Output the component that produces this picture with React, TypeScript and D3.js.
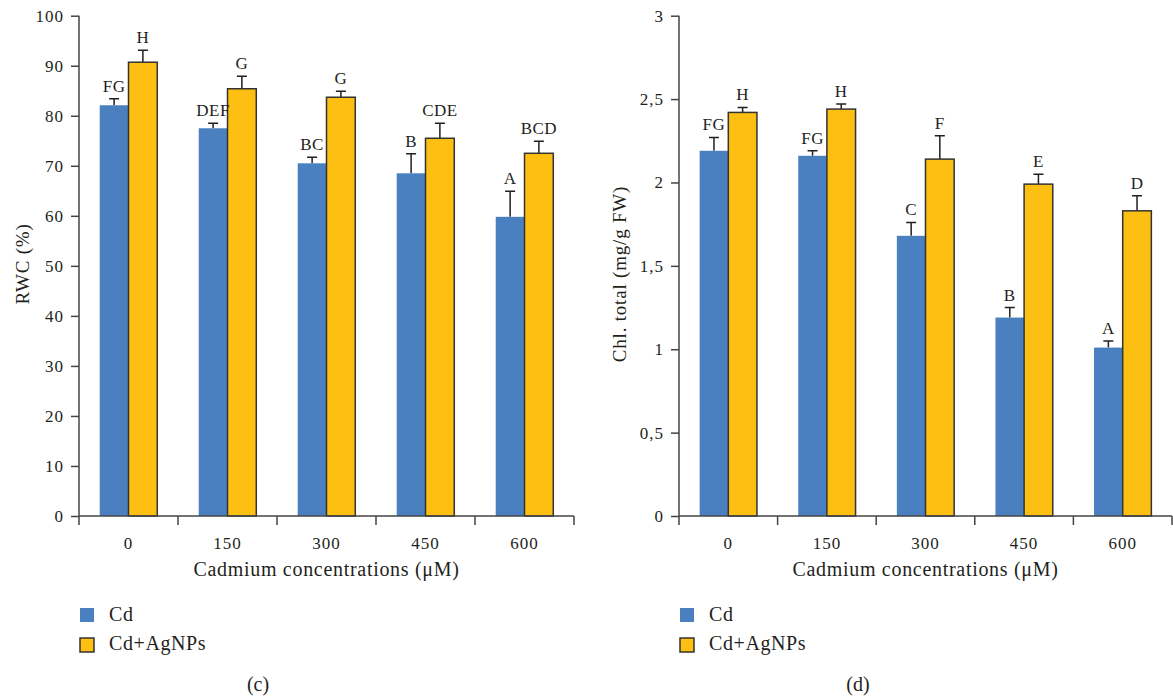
import React, { useEffect, useRef } from 'react';
import * as d3 from 'd3';

const categories = ['0', '150', '300', '450', '600'];
const seriesNames = ['Cd', 'Cd+AgNPs'];

const rwcCd = [82.1, 77.5, 70.5, 68.5, 59.8];
const rwcCdErr = [1.3, 1.0, 1.2, 3.9, 5.1];
const rwcAg = [90.7, 85.4, 83.7, 75.5, 72.5];
const rwcAgErr = [2.4, 2.5, 1.2, 3.0, 2.4];
const rwcCdLetters = ['FG', 'DEF', 'BC', 'B', 'A'];
const rwcAgLetters = ['H', 'G', 'G', 'CDE', 'BCD'];
const rwcTicks = [0, 10, 20, 30, 40, 50, 60, 70, 80, 90, 100];

const chlCd = [2.19, 2.16, 1.68, 1.19, 1.01];
const chlCdErr = [0.08, 0.03, 0.08, 0.06, 0.04];
const chlAg = [2.42, 2.44, 2.14, 1.99, 1.83];
const chlAgErr = [0.03, 0.03, 0.14, 0.06, 0.09];
const chlCdLetters = ['FG', 'FG', 'C', 'B', 'A'];
const chlAgLetters = ['H', 'H', 'F', 'E', 'D'];
const chlTicks = [0, 0.5, 1, 1.5, 2, 2.5, 3];

const BLUE = '#4a80c0';
const YELLOW = '#fcbf12';
const INK = '#231f20';
const AXIS = '#444';
const FONT = '"Liberation Serif", "DejaVu Serif", serif';

const commaFmt = d3.formatLocale({ decimal: ',', thousands: '.', grouping: [3], currency: ['', ''] }).format('.1~f');

type Panel = {
  left: number;
  right: number;
  max: number;
  ticks: number[];
  fmt: (v: number) => string;
  cd: number[];
  cdErr: number[];
  ag: number[];
  agErr: number[];
  cdLetters: string[];
  agLetters: string[];
  yTitle: string;
  yTitleX: number;
  yTitleY: number;
  caption: string;
};

const panels: Panel[] = [
  {
    left: 79, right: 574, max: 100, ticks: rwcTicks, fmt: (v) => String(v),
    cd: rwcCd, cdErr: rwcCdErr, ag: rwcAg, agErr: rwcAgErr,
    cdLetters: rwcCdLetters, agLetters: rwcAgLetters,
    yTitle: 'RWC (%)', yTitleX: 29, yTitleY: 264, caption: '(c)',
  },
  {
    left: 679, right: 1172, max: 3, ticks: chlTicks, fmt: (v) => commaFmt(v),
    cd: chlCd, cdErr: chlCdErr, ag: chlAg, agErr: chlAgErr,
    cdLetters: chlCdLetters, agLetters: chlAgLetters,
    yTitle: 'Chl. total (mg/g FW)', yTitleX: 626, yTitleY: 274, caption: '(d)',
  },
];

const TOP = 15.7;
const BOTTOM = 516;

function App() {
  const svgRef = useRef<SVGSVGElement | null>(null);

  useEffect(() => {
    const svg = d3.select(svgRef.current);
    svg.selectAll('*').remove();

    panels.forEach((p) => {
      const g = svg.append('g').attr('font-family', FONT).attr('fill', INK);

      const x = d3.scaleBand<string>().domain(categories).range([p.left, p.right]).paddingInner(0).paddingOuter(0);
      const x1 = d3.scaleBand<string>().domain(seriesNames).range([0, x.bandwidth()]).paddingInner(0).paddingOuter(0.72);
      const y = d3.scaleLinear().domain([0, p.max]).range([BOTTOM, TOP]);

      const rows = categories.map((c, i) => [
        { c, s: seriesNames[0], v: p.cd[i], e: p.cdErr[i], l: p.cdLetters[i] },
        { c, s: seriesNames[1], v: p.ag[i], e: p.agErr[i], l: p.agLetters[i] },
      ]).flat();

      // error bars (upper whisker only)
      g.selectAll('.err')
        .data(rows)
        .enter()
        .append('path')
        .attr('stroke', INK)
        .attr('stroke-width', 1.5)
        .attr('fill', 'none')
        .attr('d', (d) => {
          const cx = (x(d.c) as number) + (x1(d.s) as number) + x1.bandwidth() / 2;
          const y0 = y(d.v);
          const y1 = y(d.v + d.e);
          return `M${cx},${y0}V${y1}M${cx - 5},${y1}H${cx + 5}`;
        });

      g.selectAll('.bar')
        .data(rows)
        .enter()
        .append('rect')
        .attr('x', (d) => (x(d.c) as number) + (x1(d.s) as number))
        .attr('y', (d) => y(d.v))
        .attr('width', x1.bandwidth())
        .attr('height', (d) => BOTTOM - y(d.v))
        .attr('fill', (d) => (d.s === 'Cd' ? BLUE : YELLOW))
        .attr('stroke', (d) => (d.s === 'Cd' ? 'none' : '#333'))
        .attr('stroke-width', 1.5);

      g.selectAll('.letter')
        .data(rows)
        .enter()
        .append('text')
        .attr('x', (d) => (x(d.c) as number) + (x1(d.s) as number) + x1.bandwidth() / 2)
        .attr('y', (d) => y(d.v + d.e) - 7)
        .attr('text-anchor', 'middle')
        .attr('font-size', 17)
        .attr('letter-spacing', 0.5)
        .text((d) => d.l);

      // y axis
      const yAxis = g.append('g')
        .attr('transform', `translate(${p.left},0)`)
        .call(d3.axisLeft(y).tickValues(p.ticks).tickSize(8).tickPadding(7).tickFormat((v) => p.fmt(v as number)));
      yAxis.select('.domain').attr('stroke', AXIS).attr('stroke-width', 1.5).attr('d', `M0,${TOP}V${BOTTOM}`);
      yAxis.selectAll('.tick line').attr('stroke', AXIS).attr('stroke-width', 1.5);
      yAxis.selectAll('.tick text')
        .attr('font-size', 17)
        .attr('letter-spacing', 1)
        .attr('font-family', FONT)
        .attr('fill', INK);

      // x axis
      const xa = g.append('g');
      xa.append('line')
        .attr('x1', p.left).attr('x2', p.right)
        .attr('y1', BOTTOM).attr('y2', BOTTOM)
        .attr('stroke', AXIS).attr('stroke-width', 1.5);
      const bounds = categories.map((c) => x(c) as number).concat([p.right]);
      xa.selectAll('.xt')
        .data(bounds)
        .enter()
        .append('line')
        .attr('x1', (d) => d).attr('x2', (d) => d)
        .attr('y1', BOTTOM).attr('y2', BOTTOM + 9)
        .attr('stroke', AXIS).attr('stroke-width', 1.5);
      xa.selectAll('.xl')
        .data(categories)
        .enter()
        .append('text')
        .attr('x', (d) => (x(d) as number) + x.bandwidth() / 2)
        .attr('y', 549)
        .attr('text-anchor', 'middle')
        .attr('font-size', 17)
        .attr('letter-spacing', 1)
        .text((d) => d);

      const mid = (p.left + p.right) / 2;
      g.append('text')
        .attr('x', mid).attr('y', 576)
        .attr('text-anchor', 'middle')
        .attr('font-size', 20)
        .attr('letter-spacing', 0.7)
        .text('Cadmium concentrations (μM)');

      g.append('text')
        .attr('transform', `translate(${p.yTitleX},${p.yTitleY}) rotate(-90)`)
        .attr('text-anchor', 'middle')
        .attr('font-size', 19)
        .attr('letter-spacing', 0.8)
        .text(p.yTitle);

      // legend
      const lg = g.append('g').attr('transform', `translate(${p.left},0)`);
      seriesNames.forEach((s, i) => {
        lg.append('rect')
          .attr('x', 1).attr('y', 608 + i * 30)
          .attr('width', 14).attr('height', 14)
          .attr('fill', i === 0 ? BLUE : YELLOW)
          .attr('stroke', i === 0 ? 'none' : '#333')
          .attr('stroke-width', 1.5);
        lg.append('text')
          .attr('x', 30).attr('y', 621 + i * 29)
          .attr('font-size', 20)
          .attr('letter-spacing', 0.6)
          .text(s);
      });

      g.append('text')
        .attr('x', p.left + 179).attr('y', 691)
        .attr('text-anchor', 'middle')
        .attr('font-size', 20)
        .text(p.caption);
    });
  }, []);

  return (
    <svg ref={svgRef} width={1173} height={699} style={{ position: 'absolute', left: 0, top: 0, background: '#fff' }}></svg>
  );
}

export default App;
